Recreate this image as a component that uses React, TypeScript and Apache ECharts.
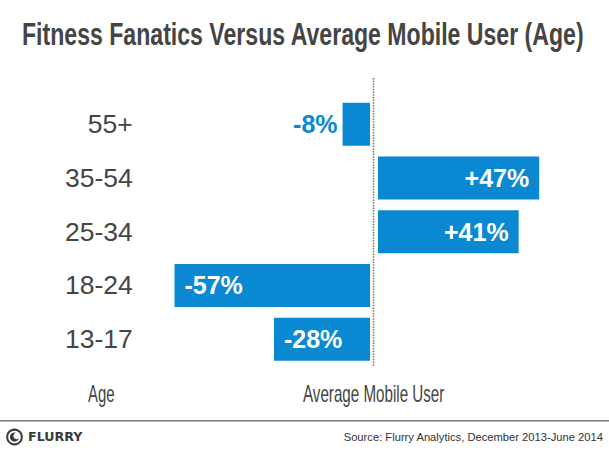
import React, { useEffect, useRef } from "react";
import * as echarts from "echarts";

const titleText = "Fitness Fanatics Versus Average Mobile User (Age)";
const categories = ["13-17", "18-24", "25-34", "35-54", "55+"];
const values = [-28, -57, 41, 47, -8];
const leftAxisLabel = "Age";
const rightAxisLabel = "Average Mobile User";
const sourceText = "Source: Flurry Analytics, December 2013-June 2014";
const brandText = "FLURRY";

const BLUE = "#0a89d2";
const GREY = "#454545";
const SANS = "'Liberation Sans', Arial, sans-serif";

function fmt(v: number) {
  return (v > 0 ? "+" : "") + v + "%";
}

function item(v: number) {
  const small = Math.abs(v) < 15;
  return {
    value: v,
    label: small
      ? { position: v < 0 ? "left" : "right", distance: 5, color: BLUE }
      : { position: v < 0 ? "insideLeft" : "insideRight", distance: 10, color: "#fff" },
  };
}

export default function App() {
  const ref = useRef<HTMLDivElement>(null);
  useEffect(() => {
    document.body.style.margin = "0";
    const chart = echarts.init(ref.current!, null, { renderer: "svg" });
    const negData = values.map((v) => (v < 0 ? item(v) : "-"));
    const posData = values.map((v) => (v > 0 ? item(v) : "-"));
    const k = 3.43;
    const gTop = 97.3;
    const gH = 268.8;
    const labelStyle = {
      show: true,
      formatter: (p: any) => fmt(p.value),
      fontFamily: SANS,
      fontWeight: "bold",
      fontSize: 25,
    };
    chart.setOption({
      animation: false,
      backgroundColor: "#fff",
      grid: [
        { left: 370 - 60 * k, width: 60 * k, top: gTop, height: gH },
        { left: 378, width: 60 * k, top: gTop, height: gH },
      ],
      xAxis: [
        { gridIndex: 0, type: "value", min: -60, max: 0, show: false },
        { gridIndex: 1, type: "value", min: 0, max: 60, show: false },
      ],
      yAxis: [
        {
          gridIndex: 0,
          type: "category",
          data: categories,
          axisLine: { show: false },
          axisTick: { show: false },
          splitLine: { show: false },
          axisLabel: {
            margin: 31.5,
            fontSize: 26.5,
            fontFamily: SANS,
            color: GREY,
          },
        },
        { gridIndex: 1, type: "category", data: categories, show: false },
      ],
      series: [
        {
          type: "bar",
          xAxisIndex: 0,
          yAxisIndex: 0,
          barWidth: 43,
          data: negData,
          itemStyle: { color: BLUE },
          label: labelStyle,
        },
        {
          type: "bar",
          xAxisIndex: 1,
          yAxisIndex: 1,
          barWidth: 43,
          data: posData,
          itemStyle: { color: BLUE },
          label: labelStyle,
        },
      ],
      graphic: [
        {
          type: "text",
          x: 22,
          y: 34.5,
          scaleX: 0.745,
          style: {
            text: titleText,
            fontFamily: SANS,
            fontWeight: "bold",
            fontSize: 31,
            fill: GREY,
            align: "left",
            verticalAlign: "middle",
          },
        },
        {
          type: "line",
          shape: { x1: 373.5, y1: 78, x2: 373.5, y2: 367 },
          style: { stroke: "#7a7a7a", lineWidth: 1.6, lineDash: [1.5, 1.2] },
        },
        {
          type: "text",
          x: 88,
          y: 393.3,
          scaleX: 0.65,
          style: {
            text: leftAxisLabel,
            fontFamily: SANS,
            fontSize: 23,
            fill: GREY,
            align: "left",
            verticalAlign: "middle",
          },
        },
        {
          type: "text",
          x: 303,
          y: 393.3,
          scaleX: 0.66,
          style: {
            text: rightAxisLabel,
            fontFamily: SANS,
            fontSize: 23,
            fill: GREY,
            align: "left",
            verticalAlign: "middle",
          },
        },
        {
          type: "line",
          shape: { x1: 0, y1: 420.7, x2: 609, y2: 420.7 },
          style: { stroke: "#7a7a7a", lineWidth: 1.6 },
        },
        {
          type: "circle",
          shape: { cx: 14.5, cy: 437, r: 7.3 },
          style: { fill: "none", stroke: "#3a3a3a", lineWidth: 2 },
        },
        {
          type: "circle",
          shape: { cx: 14.5, cy: 437, r: 4.6 },
          style: { fill: "#3a3a3a" },
        },
        {
          type: "circle",
          shape: { cx: 16.7, cy: 435.9, r: 3.3 },
          style: { fill: "#fff" },
        },
        {
          type: "text",
          x: 28,
          y: 437.3,
          scaleX: 1.1,
          style: {
            text: brandText,
            fontFamily: "'DejaVu Sans', sans-serif",
            fontWeight: "bold",
            fontSize: 11.5,
            fill: "#3a3a3a",
            align: "left",
            verticalAlign: "middle",
          },
        },
        {
          type: "text",
          x: 603,
          y: 437.3,
          style: {
            text: sourceText,
            fontFamily: SANS,
            fontSize: 11.2,
            fill: "#333",
            align: "right",
            verticalAlign: "middle",
          },
        },
      ],
    });
    return () => chart.dispose();
  }, []);
  return <div ref={ref} style={{ width: 609, height: 450 }} />;
}
